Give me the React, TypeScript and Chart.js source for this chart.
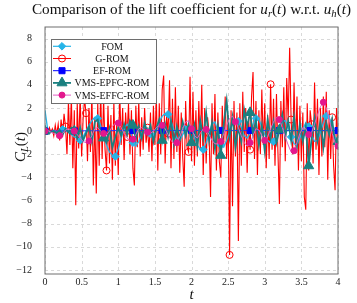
import React, { useEffect, useRef } from 'react';
import { Chart, registerables } from 'chart.js';

Chart.register(...registerables);

// ---------- data ----------
const G_ROM_STEP = 0.02; // time step of the G-ROM samples
const SMOOTH_STEP = 0.04; // time step of FOM / VMS samples

const gRom = [
  0, 0.1, -0.2, 0.3, -0.1, 0.2, -0.4, 0.5, -0.3, 0.6, -0.8, 1.0, -0.5,
  1.5, 0.4,
  -2.0, 2.6, -1.2, 3.0, -3.2, 1.8,
  -6.4,
  2.4, -1.5, 3.2, -2.2, 1.0, 2.8, 1.55, -2.6, 2.0,
  -1.8, 3.4, -4.7, 1.2, -5.4, 2.5, -3.0, 3.6, -2.4, 2.9, -1.6,
  -3.4,
  2.2, -2.8, 1.4, -4.2, 2.6, -3.0, 0.8, -3.8, 3.5, -1.2, 2.0, -2.5, 1.6,
  -0.5,
  2.4, -2.0, 1.8, -3.2, -4.7, 2.2, -1.4, 2.6, -2.2, 1.2, -1.6, 2.0, -1.0,
  0.3,
  -1.8, 1.6, -2.6, 2.2, -1.2, 3.0, -3.4, 2.4, -2.0, 3.6, 4.8, -2.8, 1.4,
  -0.2,
  4.4, -3.2, 2.8, -2.4, 3.8, -1.8, 2.2, -3.6, 1.6, -2.2, -4.8, 2.6, -1.4,
  -1.8,
  4.7, -2.6, 3.4, -3.0, 1.8, -2.2, 2.6, -1.6, 4.0, -3.8, 2.0, -2.8, 1.2,
  -0.2,
  -5.7, 2.4, -2.0, 3.2, -3.4, 1.6, -2.6, -4.0, 2.2, -1.2, 3.0, -2.4, 1.4,
  -10.7,
  1.8, -6.5, 2.6, -2.2, 1.6, -9.5, 2.4, -3.0, 3.4, -1.8, 2.0, -3.6, 1.2,
  -1.6,
  3.0, 5.1, -2.4, 2.6, -3.8, 1.8, -2.0, 3.6, -1.2, 2.4, -3.2, 1.4, -2.4,
  4.05,
  -1.6, 2.8, -3.0, 3.2, -1.8, -6.3, 2.6, -1.4, 3.8, -2.6, 4.6, 1.0, 7.2,
  1.0,
  -2.0, 4.2, -1.8, 3.0, -3.4, 2.2, -2.6, 1.6, -5.7, -6.8, 2.4, -3.4, 1.8,
  0.6,
  -2.8, 4.2, -1.6, 2.8, -3.8, 2.0, -2.2, 3.0, -1.4, 3.4, -4.2, 1.8, -2.4,
  1.2,
  -3.0, -5.1, 2.0, -1.0,
];

const fom = [
  1.8, 0.0, -0.1, 0.1, -0.1, 0.1, 0.15, 0.3, 0.0, -0.3,
  -0.5, -0.6, -0.8, -0.5, 0.0, 0.5, 0.9, 1.2, 1.1, 0.5,
  -0.4, -1.2, -1.8, -2.1, -2.2, -1.5, -0.6, 0.2, 0.6, 0.2,
  -1.0, -1.3, -0.9, -0.2, 0.4, 0.2, -0.25, -0.5, 0.0, 0.8,
  1.3, 1.5, 1.45, 0.9, 0.1, -0.6, -0.8, -0.3, 0.15, 0.5,
  0.2, -0.5, -1.2, -1.6, -1.6, -1.0, -0.2, 0.6, 0.8, 0.0,
  -1.2, -1.4, -0.8, 0.0, 0.6, 0.9, 0.85, 0.3, -0.4, -0.6,
  -0.2, 0.6, 1.1, 1.0, 0.4, -0.3, -0.8, -1.0, -0.9, -0.4,
  0.3, 0.8, 0.9, 0.3, -0.5, -1.1, -1.2, -0.6, 0.2, 0.7,
  0.4, -0.3, -0.9, -0.8, -0.1, 0.7, 1.3, 1.2, 0.4, -0.5,
  -1.3,
];

const vmsEpfc = [
  0.0, 0.05, -0.1, 0.0, -0.2, 0.1, -0.3, 0.2, -0.1, 0.3,
  0.0, -0.6, 0.3, -0.8, -0.2, 0.4, -0.9, 0.8, 1.0, -0.2,
  -0.6, -1.0, 0.2, -1.4, -0.5, 0.3, -0.4, 0.6, -0.3, 0.9,
  0.5, -0.7, 0.4, -0.6, 0.7, -0.2, 0.5, -0.9, 0.3, 1.0,
  -0.8, 0.6, -0.5, 0.9, -1.1, 0.4, -0.7, 0.8, -0.4, 0.6,
  -1.0, 0.5, -1.3, 0.9, -0.6, 1.6, -0.8, 0.7, -1.5, 0.4,
  -2.1, 0.6, 2.6, -0.5, 1.2, -1.4, 0.3, -0.9, 1.8, 0.4,
  1.6, -0.3, 0.9, -1.2, 0.5, -1.7, 1.0, -0.6, 0.8, -1.0,
  0.1, 1.4, -0.5, 0.9, -0.8, 1.2, -1.3, 0.6, -0.9, 0.4,
  -3.0, -0.6, 1.1, -0.8, 0.9, -1.4, 0.7, -0.3, 1.0, -1.1,
  -0.9,
];

const vmsEffc = [
  0.0, 0.05, -0.1, -0.2, -0.3, -0.4, -0.2, 0.1, 0.2, 0.1,
  0.0, -0.3, -0.6, -0.9, -1.0, -0.85, -0.4, 0.2, 0.3, 0.0,
  -0.2, -0.3, 0.0, 0.4, 0.7, 0.7, 0.3, -0.2, -0.6, -0.8,
  -0.7, -0.3, 0.2, 0.3, 0.1, -0.1, -0.2, 0.0, 0.3, 0.5,
  0.5, 0.2, -0.3, -0.8, -1.1, -1.0, -0.5, 0.2, 0.8, 0.9,
  0.2, -0.4, -0.6, -0.2, 0.2, 0.15, -0.3, -0.8, -1.1, -1.1,
  -0.9, -0.2, 0.5, 1.1, 1.3, 0.8, 0.3, -0.4, -1.0, -1.3,
  -1.0, -0.4, 0.2, 0.1, -0.4, -0.8, -0.5, 0.2, 0.8, 1.2,
  1.0, 0.3, -0.5, -1.2, -1.8, -1.7, -1.0, -0.2, 0.3, 0.2,
  -0.3, -0.1, 0.6, 1.4, 2.1, 2.5, 2.0, 1.0, -0.2, -1.0,
  -1.3,
];

const efRomT = [0, 0.4, 0.8, 1.2, 1.6, 2.0, 2.4, 2.8, 3.2, 3.6, 4.0];
const efRom = [0.0, 0.02, 0.04, 0.05, 0.05, 0.06, 0.06, 0.06, 0.05, 0.05, 0.05];

const xTicks = [0, 0.5, 1, 1.5, 2, 2.5, 3, 3.5, 4];
const yTicks = [-12, -10, -8, -6, -4, -2, 0, 2, 4, 6, 8];

const seriesNames = ['FOM', 'G-ROM', 'EF-ROM', 'VMS-EPFC-ROM', 'VMS-EFFC-ROM'];

// ---------- styles ----------
const FONT = "'Liberation Serif', 'Times New Roman', serif";
const C_FOM = '#25b4e8';
const C_RED = '#ff0000';
const C_BLUE = '#0000ff';
const C_TEAL = '#1a8080';
const C_MAG = '#e3178d';
const C_MAG_LINE = '#e060c4';

const legendStyles = [
  { line: C_FOM, lw: 1.2, style: 'rectRot', r: 3.8, fill: C_FOM, stroke: C_FOM },
  { line: C_RED, lw: 1, style: 'circle', r: 3.5, fill: 'rgba(0,0,0,0)', stroke: C_RED },
  { line: C_BLUE, lw: 1, style: 'rect', r: 4.3, fill: C_BLUE, stroke: C_BLUE },
  { line: C_TEAL, lw: 1.8, style: 'triangle', r: 5.8, fill: C_TEAL, stroke: C_TEAL },
  { line: C_MAG_LINE, lw: 1, style: 'circle', r: 3, fill: C_MAG, stroke: C_MAG },
];

type Part = [string, string];

function drawRich(ctx: CanvasRenderingContext2D, parts: Part[], x: number, y: number, size: number) {
  const fontFor = (s: string) =>
    (s.includes('i') ? 'italic ' : '') + (s.includes('s') ? size * 0.7 : size) + 'px ' + FONT;
  let total = 0;
  const widths = parts.map(([t, s]) => {
    ctx.font = fontFor(s);
    const w = ctx.measureText(t).width;
    total += w;
    return w;
  });
  let cx = x - total / 2;
  ctx.textAlign = 'left';
  ctx.textBaseline = 'alphabetic';
  parts.forEach(([t, s], i) => {
    ctx.font = fontFor(s);
    ctx.fillText(t, cx, y + (s.includes('s') ? size * 0.22 : 0));
    cx += widths[i];
  });
}

function drawMarker(
  ctx: CanvasRenderingContext2D, style: string, x: number, y: number, r: number,
  fill: string, stroke: string, bw: number,
) {
  ctx.beginPath();
  if (style === 'circle') ctx.arc(x, y, r, 0, Math.PI * 2);
  else if (style === 'rectRot') {
    ctx.moveTo(x - r, y); ctx.lineTo(x, y - r); ctx.lineTo(x + r, y); ctx.lineTo(x, y + r); ctx.closePath();
  } else if (style === 'rect') {
    const s = r * Math.SQRT1_2;
    ctx.rect(x - s, y - s, 2 * s, 2 * s);
  } else if (style === 'triangle') {
    for (let k = 0; k < 3; k++) {
      const a = (k * 2 * Math.PI) / 3;
      const px = x + Math.sin(a) * r, py = y - Math.cos(a) * r;
      if (k === 0) ctx.moveTo(px, py); else ctx.lineTo(px, py);
    }
    ctx.closePath();
  }
  ctx.fillStyle = fill;
  ctx.fill();
  ctx.lineWidth = bw;
  ctx.strokeStyle = stroke;
  ctx.stroke();
}

const decorPlugin = {
  id: 'decor',
  beforeDatasetsDraw(chart: any) {
    const { ctx, chartArea: a, scales } = chart;
    ctx.save();
    ctx.strokeStyle = '#d9d9d9';
    ctx.lineWidth = 1;
    ctx.setLineDash([3, 3]);
    xTicks.forEach((v) => {
      const px = Math.round(scales.x.getPixelForValue(v)) + 0.5;
      ctx.beginPath(); ctx.moveTo(px, a.top); ctx.lineTo(px, a.bottom); ctx.stroke();
    });
    yTicks.forEach((v) => {
      const py = Math.round(scales.y.getPixelForValue(v)) + 0.5;
      ctx.beginPath(); ctx.moveTo(a.left, py); ctx.lineTo(a.right, py); ctx.stroke();
    });
    ctx.restore();
  },
  afterDatasetsDraw(chart: any) {
    const { ctx, chartArea: a, scales } = chart;
    ctx.save();
    // frame
    ctx.strokeStyle = '#6e6e6e';
    ctx.lineWidth = 1;
    ctx.strokeRect(a.left, a.top, a.right - a.left, a.bottom - a.top);

    // x tick labels
    ctx.fillStyle = '#222';
    ctx.font = '10px ' + FONT;
    ctx.textAlign = 'center';
    ctx.textBaseline = 'middle';
    xTicks.forEach((v) => {
      ctx.fillText(String(v), scales.x.getPixelForValue(v), a.bottom + 8.5);
    });

    // legend
    const lx = 51, ly = 39, lw = 105, lh = 64;
    ctx.fillStyle = '#ffffff';
    ctx.fillRect(lx, ly, lw, lh);
    ctx.strokeStyle = '#6e6e6e';
    ctx.strokeRect(lx + 0.5, ly + 0.5, lw, lh);
    seriesNames.forEach((name, i) => {
      const st = legendStyles[i];
      const y = 46.3 + i * 12.2;
      ctx.beginPath();
      ctx.strokeStyle = st.line;
      ctx.lineWidth = st.lw;
      ctx.moveTo(53, y); ctx.lineTo(71, y); ctx.stroke();
      drawMarker(ctx, st.style, 62, y, st.r, st.fill, st.stroke, 1);
      ctx.fillStyle = '#111';
      ctx.font = '10px ' + FONT;
      ctx.textAlign = 'center';
      ctx.textBaseline = 'alphabetic';
      ctx.fillText(name, 112, y + 3.5);
    });

    // title
    ctx.fillStyle = '#111';
    drawRich(ctx, [
      ['Comparison of the lift coefficient for ', 'n'], ['u', 'i'], ['r', 'si'], ['(', 'n'], ['t', 'i'], [')', 'n'],
      [' w.r.t. ', 'n'], ['u', 'i'], ['h', 'si'], ['(', 'n'], ['t', 'i'], [')', 'n'],
    ], (a.left + a.right) / 2, 14, 15.2);

    // x label
    drawRich(ctx, [['t', 'i']], (a.left + a.right) / 2, 299, 15);

    // y label
    ctx.save();
    ctx.translate(20, 147);
    ctx.rotate(-Math.PI / 2);
    drawRich(ctx, [['C', 'i'], ['L', 'si'], ['(', 'n'], ['t', 'i'], [')', 'n']], 0, 5, 15);
    ctx.restore();
    ctx.restore();
  },
};

const fmt = (v: number | string) => {
  const n = Number(v);
  return n < 0 ? '\u2212' + Math.abs(n) : String(n);
};

export default function App() {
  const ref = useRef<HTMLCanvasElement>(null);
  useEffect(() => {
    const canvas = ref.current;
    if (!canvas) return;
    const series = (arr: number[], step: number) => arr.map((v, i) => ({ x: Math.round(i * step * 1000) / 1000, y: v }));
    const every = (k: number, r: number, skipFirst = false) => (c: any) =>
      c.dataIndex % k === 0 && !(skipFirst && c.dataIndex === 0) ? r : 0;

    const chart = new Chart(canvas, {
      type: 'line',
      data: {
        datasets: [
          {
            label: seriesNames[0], data: series(fom, SMOOTH_STEP), borderColor: C_FOM, borderWidth: 1.3,
            pointStyle: 'rectRot', pointRadius: every(6, 3.8, true), pointBackgroundColor: C_FOM,
            pointBorderColor: C_FOM, pointBorderWidth: 1, order: 4,
          },
          {
            label: seriesNames[1], data: series(gRom, G_ROM_STEP), borderColor: C_RED, borderWidth: 1.1,
            pointStyle: 'circle', pointRadius: every(14, 3.5), pointBackgroundColor: 'rgba(0,0,0,0)',
            pointBorderColor: C_RED, pointBorderWidth: 1, order: 5,
          },
          {
            label: seriesNames[2], data: efRomT.map((t, i) => ({ x: t, y: efRom[i] })), borderColor: '#2a2aff',
            borderWidth: 1, pointStyle: 'rect', pointRadius: 4.3, pointBackgroundColor: C_BLUE,
            pointBorderColor: C_BLUE, pointBorderWidth: 1, order: 3,
          },
          {
            label: seriesNames[3], data: series(vmsEpfc, SMOOTH_STEP), borderColor: C_TEAL, borderWidth: 1.8,
            pointStyle: 'triangle', pointRadius: every(10, 5.8), pointBackgroundColor: C_TEAL,
            pointBorderColor: C_TEAL, pointBorderWidth: 1, order: 2,
          },
          {
            label: seriesNames[4], data: series(vmsEffc, SMOOTH_STEP), borderColor: C_MAG_LINE, borderWidth: 1,
            pointStyle: 'circle', pointRadius: every(5, 3), pointBackgroundColor: C_MAG,
            pointBorderColor: C_MAG, pointBorderWidth: 1, order: 1,
          },
        ],
      } as any,
      options: {
        animation: false,
        responsive: false,
        events: [],
        layout: { padding: { left: 0, right: 19, top: 27, bottom: 0 } },
        plugins: { legend: { display: false }, title: { display: false }, tooltip: { enabled: false } },
        elements: { line: { tension: 0 } },
        scales: {
          x: {
            type: 'linear', min: 0, max: 4,
            grid: { display: false }, border: { display: false },
            afterBuildTicks: (s: any) => { s.ticks = xTicks.map((v) => ({ value: v })); },
            afterFit: (s: any) => { s.height = 29; },
            ticks: { display: false },
          },
          y: {
            type: 'linear', min: -12.35, max: 9,
            grid: { display: false }, border: { display: false },
            afterBuildTicks: (s: any) => { s.ticks = yTicks.map((v) => ({ value: v })); },
            afterFit: (s: any) => { s.width = 45; },
            ticks: { color: '#222', font: { family: FONT, size: 10 }, padding: 5, autoSkip: false, callback: fmt },
          },
        },
      } as any,
      plugins: [decorPlugin],
    });
    return () => chart.destroy();
  }, []);
  return (
    <div style={{ position: 'absolute', left: 0, top: 0, width: 357, height: 303 }}>
      <canvas ref={ref} width={357} height={303} style={{ display: 'block', width: 357, height: 303 }} />
    </div>
  );
}
